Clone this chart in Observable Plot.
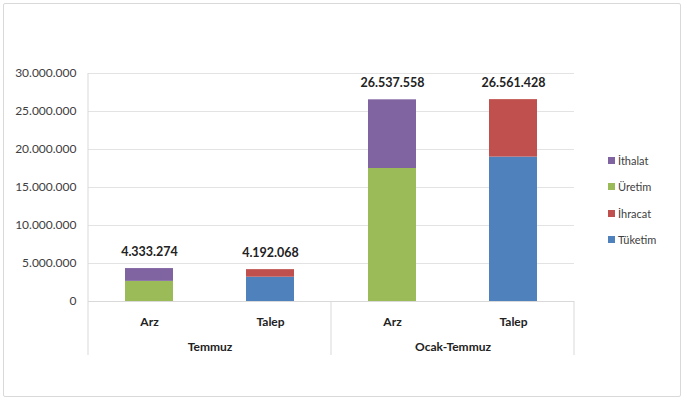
<!DOCTYPE html>
<html>
<head>
<meta charset="utf-8">
<script src="https://cdn.jsdelivr.net/npm/d3@7"></script>
<script src="https://cdn.jsdelivr.net/npm/@observablehq/plot@0.6"></script>
<style>
  body { margin: 0; background: #fff; font-family: Lato, "Open Sans", sans-serif; }
  #wrap { position: relative; width: 683px; height: 401px; overflow: hidden; }
  #border { position: absolute; left: 3px; top: 3px; width: 676px; height: 392px; border: 1px solid #d9d9d9; border-radius: 2px; pointer-events: none; }
  #chart { position: absolute; left: 0; top: 0; }
  #legend { position: absolute; left: 608px; top: 152px; font-size: 11px; color: #404040; }
  #legend .item { display: flex; align-items: center; height: 16px; margin-bottom: 10.6px; }
  #legend .sw { width: 7px; height: 7px; margin-right: 3px; }
</style>
</head>
<body>
<div id="wrap">
  <div id="chart"></div>
  <div id="legend"></div>
  <div id="border"></div>
</div>
<script>
// ---- data ----
const groups = ["Temmuz", "Ocak-Temmuz"];
const cats = ["Arz", "Talep"];
const series = ["Üretim", "İthalat", "Tüketim", "İhracat"];
const seriesColors = ["#9BBB59", "#8064A2", "#4F81BD", "#C0504D"];
// Arz components per group
const uretim = [2650000, 17500000];
const ithalat = [1683274, 9037558];
// Talep components per group
const tuketim = [3200000, 19000000];
const ihracat = [992068, 7561428];
// totals (labels)
const arzTotal = [4333274, 26537558];
const talepTotal = [4192068, 26561428];
const yTicks = [0, 5000000, 10000000, 15000000, 20000000, 25000000, 30000000];
const legendOrder = ["İthalat", "Üretim", "İhracat", "Tüketim"];

// ---- build tables ----
const rows = [];
groups.forEach((g, i) => {
  rows.push({group: g, cat: "Arz", series: "Üretim", value: uretim[i]});
  rows.push({group: g, cat: "Arz", series: "İthalat", value: ithalat[i]});
  rows.push({group: g, cat: "Talep", series: "Tüketim", value: tuketim[i]});
  rows.push({group: g, cat: "Talep", series: "İhracat", value: ihracat[i]});
});
const totals = [];
groups.forEach((g, i) => {
  totals.push({group: g, cat: "Arz", value: arzTotal[i]});
  totals.push({group: g, cat: "Talep", value: talepTotal[i]});
});

const tr = d3.formatLocale({decimal: ",", thousands: ".", grouping: [3], currency: ["", ""]});
const fmt = tr.format(",d");

const W = 683, H = 401, ML = 88, MR = 109, MT = 73, MB = 100;

const plot = Plot.plot({
  width: W, height: H,
  marginLeft: ML, marginRight: MR, marginTop: MT, marginBottom: MB,
  style: {fontFamily: "Lato, 'Open Sans', sans-serif", fontSize: "11.5px", color: "#404040", background: "transparent"},
  fx: {domain: groups, padding: 0, label: null},
  x: {domain: cats, paddingInner: 0.6, paddingOuter: 0.3, label: null},
  y: {domain: [0, 30000000], label: null},
  color: {domain: series, range: seriesColors},
  marks: [
    Plot.gridY(yTicks, {stroke: "#e3e3e3", strokeOpacity: 1}),
    Plot.axisY(yTicks, {tickSize: 0, tickPadding: 12, tickFormat: fmt, label: null, fontSize: 12}),
    Plot.barY(rows, {fx: "group", x: "cat", y: "value", fill: "series"}),
    Plot.ruleY([0], {stroke: "#d9d9d9"}),
    Plot.text(totals, {fx: "group", x: "cat", y: "value", text: d => fmt(d.value), dy: -17, fontWeight: "bold", fontSize: 12.5, fill: "#222"}),
    Plot.axisX({tickSize: 0, tickPadding: 16, fontWeight: "bold", fontSize: 12, label: null, fill: "#222"}),
    Plot.axisFx({anchor: "bottom", tickSize: 0, tickPadding: 41, fontWeight: "bold", fontSize: 12, label: null, fill: "#222"})
  ]
});

// separators / axis line using the fx scale
const fxs = plot.scale("fx");
const ys = plot.scale("y");
const y0 = ys.apply(0), yTop = ys.apply(30000000), yBot = H - 46;
const svg = d3.select(plot);
const gl = svg.append("g").attr("stroke", "#d9d9d9").attr("stroke-width", 1);
gl.append("line").attr("x1", fxs.apply(groups[0])).attr("x2", fxs.apply(groups[0]))
  .attr("y1", yTop).attr("y2", yBot);
gl.append("line").attr("x1", fxs.apply(groups[1])).attr("x2", fxs.apply(groups[1]))
  .attr("y1", y0).attr("y2", yBot);
const xr = fxs.apply(groups[1]) + fxs.bandwidth;
gl.append("line").attr("x1", xr).attr("x2", xr).attr("y1", y0).attr("y2", yBot);

document.getElementById("chart").appendChild(plot);

// legend
const leg = document.getElementById("legend");
legendOrder.forEach(s => {
  const item = document.createElement("div");
  item.className = "item";
  const sw = document.createElement("span");
  sw.className = "sw";
  sw.style.background = seriesColors[series.indexOf(s)];
  const t = document.createElement("span");
  t.textContent = s;
  item.appendChild(sw); item.appendChild(t);
  leg.appendChild(item);
});
</script>
</body>
</html>
